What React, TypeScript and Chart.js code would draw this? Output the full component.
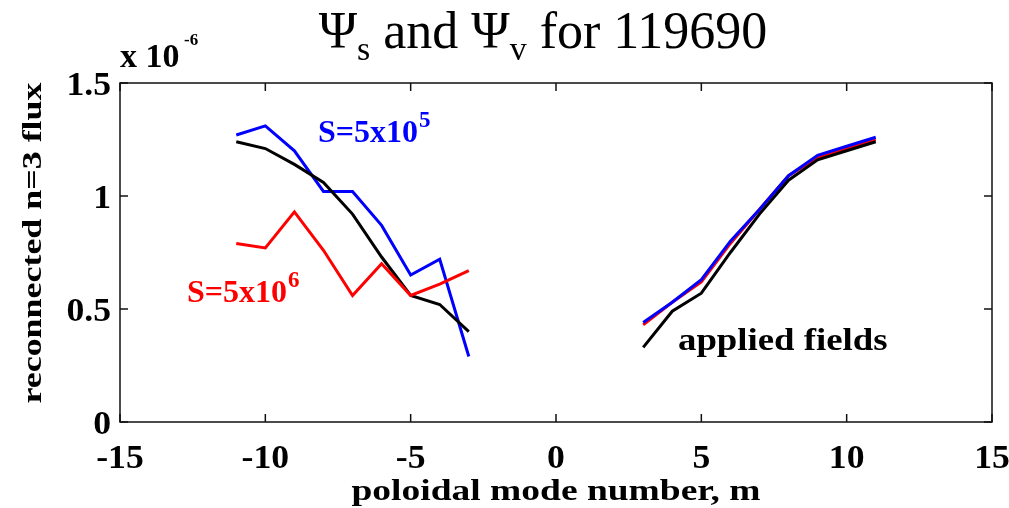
import React, { useEffect, useRef } from "react";
import { Chart, registerables } from "chart.js";

Chart.register(...registerables);

const leftModes = [-11, -10, -9, -8, -7, -6, -5, -4, -3];
const rightModes = [3, 4, 5, 6, 7, 8, 9, 10, 11];
const blueLeft = [1.27, 1.31, 1.2, 1.02, 1.02, 0.87, 0.65, 0.72, 0.29];
const redLeft = [0.79, 0.77, 0.93, 0.76, 0.56, 0.7, 0.56, 0.61, 0.67];
const blackLeft = [1.24, 1.21, 1.14, 1.06, 0.92, 0.73, 0.56, 0.52, 0.4];
const blueRight = [0.44, 0.53, 0.63, 0.8, 0.94, 1.09, 1.18, 1.22, 1.26];
const redRight = [0.43, 0.53, 0.62, 0.79, 0.94, 1.09, 1.17, 1.21, 1.25];
const blackRight = [0.33, 0.49, 0.57, 0.75, 0.92, 1.07, 1.16, 1.2, 1.24];
const xTicks = [-15, -10, -5, 0, 5, 10, 15];
const yTicks = [0, 0.5, 1, 1.5];
const yTickLabels = ["0", "0.5", "1", "1.5"];

const SERIF = "'Liberation Serif', 'Times New Roman', serif";

function pts(xs: number[], ys: number[]) {
  return xs.map((x, i) => ({ x, y: ys[i] }));
}

function stretchText(
  ctx: CanvasRenderingContext2D,
  text: string,
  x: number,
  y: number,
  font: string,
  sx: number,
  align: "left" | "center" | "right",
  color = "#000"
) {
  ctx.save();
  ctx.font = font;
  ctx.fillStyle = color;
  ctx.textBaseline = "alphabetic";
  ctx.textAlign = "left";
  const w = ctx.measureText(text).width * sx;
  let left = x;
  if (align === "center") left = x - w / 2;
  if (align === "right") left = x - w;
  ctx.translate(left, y);
  ctx.scale(sx, 1);
  ctx.fillText(text, 0, 0);
  ctx.restore();
  return w;
}

const framePlugin = {
  id: "frame",
  afterDraw(chart: any) {
    const ctx: CanvasRenderingContext2D = chart.ctx;
    const { left, right, top, bottom } = chart.chartArea;
    const xs = chart.scales.x;
    const ys = chart.scales.y;
    ctx.save();
    ctx.strokeStyle = "#111";
    ctx.lineWidth = 1.5;
    ctx.strokeRect(left, top, right - left, bottom - top);
    const tl = 8;
    ctx.beginPath();
    xTicks.forEach((v) => {
      const px = xs.getPixelForValue(v);
      ctx.moveTo(px, bottom);
      ctx.lineTo(px, bottom - tl);
      ctx.moveTo(px, top);
      ctx.lineTo(px, top + tl);
    });
    yTicks.forEach((v) => {
      const py = ys.getPixelForValue(v);
      ctx.moveTo(left, py);
      ctx.lineTo(left + tl, py);
      ctx.moveTo(right, py);
      ctx.lineTo(right - tl, py);
    });
    ctx.stroke();
    ctx.restore();

    const tickFont = `bold 34px ${SERIF}`;
    xTicks.forEach((v) => {
      const px = xs.getPixelForValue(v);
      stretchText(ctx, String(v), px, bottom + 46, tickFont, 1.05, "center");
    });
    yTicks.forEach((v, i) => {
      const py = ys.getPixelForValue(v);
      stretchText(ctx, yTickLabels[i], left - 9, py + 12, tickFont, 1.05, "right");
    });

    // exponent
    stretchText(ctx, "x 10", left, 67, `bold 34px ${SERIF}`, 1.0, "left");
    stretchText(ctx, "-6", left + 64, 45, `bold 17px ${SERIF}`, 1.0, "left");

    // x label
    stretchText(ctx, "poloidal mode number, m", (left + right) / 2, 500, `bold 30px ${SERIF}`, 1.25, "center");

    // y label
    ctx.save();
    ctx.translate(41, 243);
    ctx.rotate(-Math.PI / 2);
    stretchText(ctx, "reconnected n=3 flux", 0, 0, `bold 27px ${SERIF}`, 1.33, "center");
    ctx.restore();

    // title
    const tf = `52px ${SERIF}`;
    const sf = `34px ${SERIF}`;
    ctx.save();
    const parts: [string, string, number][] = [
      ["\u03A8", tf, 0],
      ["s", sf, 12],
      [" and \u03A8", tf, 0],
      ["v", sf, 12],
      [" for 119690", tf, 0],
    ];
    let total = 0;
    parts.forEach(([t, f]) => {
      ctx.font = f;
      total += ctx.measureText(t).width;
    });
    let cx = 543 - total / 2;
    const by = 48;
    parts.forEach(([t, f, dy]) => {
      ctx.font = f;
      ctx.fillStyle = "#000";
      ctx.textAlign = "left";
      ctx.textBaseline = "alphabetic";
      ctx.fillText(t, cx, by + dy);
      cx += ctx.measureText(t).width;
    });
    ctx.restore();

    // annotations
    const af = `bold 32px ${SERIF}`;
    const w1 = stretchText(ctx, "S=5x10", 318, 142, af, 1.0, "left", "#0000ff");
    stretchText(ctx, "5", 318 + w1 + 1, 127, `bold 23px ${SERIF}`, 1.0, "left", "#0000ff");
    const w2 = stretchText(ctx, "S=5x10", 187, 302, af, 1.0, "left", "#ff0000");
    stretchText(ctx, "6", 187 + w2 + 1, 287, `bold 23px ${SERIF}`, 1.0, "left", "#ff0000");
    stretchText(ctx, "applied fields", 678, 350, af, 1.15, "left", "#000");
  },
};

export default function App() {
  const ref = useRef<HTMLCanvasElement | null>(null);
  useEffect(() => {
    if (!ref.current) return;
    const line = (data: any, color: string) => ({
      data,
      borderColor: color,
      backgroundColor: color,
      borderWidth: 3,
      pointRadius: 0,
      showLine: true,
      fill: false,
      tension: 0,
    });
    const chart = new Chart(ref.current, {
      type: "scatter",
      data: {
        datasets: [
          line(pts(leftModes, redLeft), "#ff0000"),
          line(pts(leftModes, blackLeft), "#000000"),
          line(pts(leftModes, blueLeft), "#0000ff"),
          line(pts(rightModes, blackRight), "#000000"),
          line(pts(rightModes, blueRight), "#0000ff"),
          line(pts(rightModes, redRight), "#ff0000"),
        ],
      },
      options: {
        responsive: false,
        animation: false,
        devicePixelRatio: 1,
        layout: { padding: { top: 83, right: 17, left: 0, bottom: 0 } },
        plugins: { legend: { display: false }, tooltip: { enabled: false }, title: { display: false } },
        scales: {
          x: {
            type: "linear",
            min: -15,
            max: 15,
            grid: { display: false },
            border: { display: false },
            ticks: { display: false },
            afterFit: (s: any) => {
              s.height = 508 - 422;
            },
          },
          y: {
            type: "linear",
            min: 0,
            max: 1.5,
            grid: { display: false },
            border: { display: false },
            ticks: { display: false },
            afterFit: (s: any) => {
              s.width = 120;
            },
          },
        },
      },
      plugins: [framePlugin],
    } as any);
    return () => chart.destroy();
  }, []);
  return (
    <div style={{ position: "fixed", left: 0, top: 0, width: 1009, height: 508, background: "#fff" }}>
      <canvas ref={ref} width={1009} height={508} />
    </div>
  );
}
